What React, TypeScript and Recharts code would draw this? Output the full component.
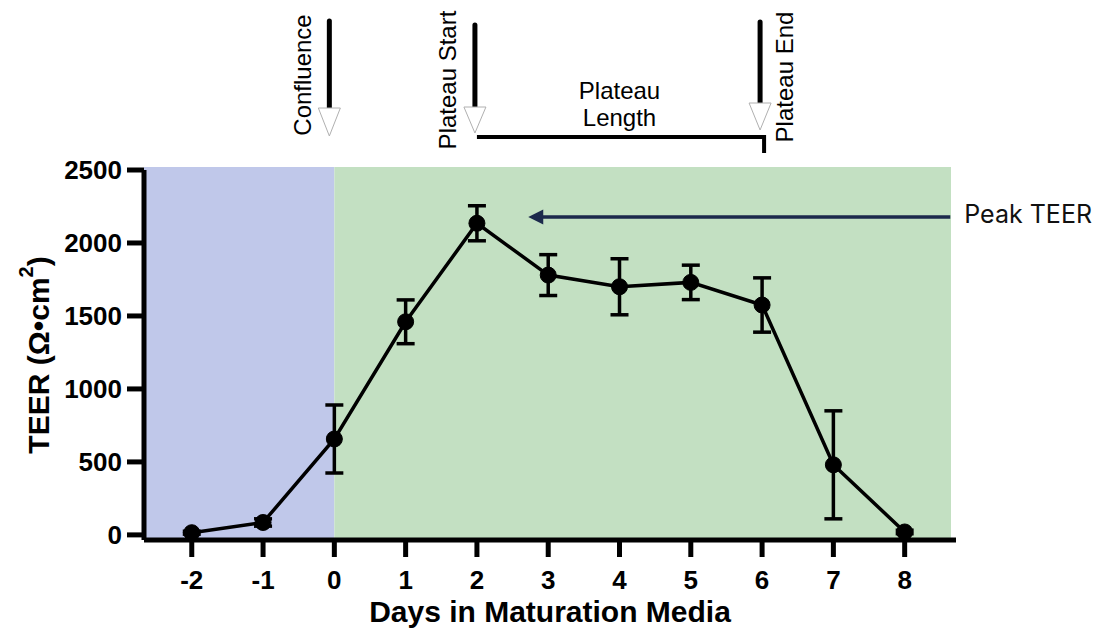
import React from 'react';
import { LineChart, Line, XAxis, YAxis, ErrorBar, ReferenceArea, ReferenceLine, Label } from 'recharts';

// ---- data ----
const days = [-2, -1, 0, 1, 2, 3, 4, 5, 6, 7, 8];
const teerMean = [15, 85, 657, 1460, 2135, 1780, 1700, 1730, 1575, 480, 20];
const teerError = [10, 25, 233, 150, 120, 140, 192, 118, 186, 370, 12];
const xTicks = [-2, -1, 0, 1, 2, 3, 4, 5, 6, 7, 8];
const yTicks = [0, 500, 1000, 1500, 2000, 2500];

const X_DOMAIN: [number, number] = [-2.67, 8.72];
const Y_DOMAIN: [number, number] = [-35, 2500];
const PRE_PHASE: [number, number] = [-2.67, 0];
const MATURATION_PHASE: [number, number] = [0, 8.65];
const SHADE_TOP = 2520;
const CONFLUENCE_DAY = 0;
const PLATEAU_START_DAY = 2;
const PLATEAU_END_DAY = 6;
const PEAK_ARROW_FROM = 2.72;
const PEAK_ARROW_TO = 8.64;
const PEAK_ARROW_LEVEL = 2178;

const data = days.map((d, i) => ({ day: d, teer: teerMean[i], err: teerError[i] }));

const FONT = '"Liberation Sans", Arial, Helvetica, sans-serif';

const makeMarker = (
  label: string,
  dx: number,
  lineTop: number,
  triTop: number,
  triBottom: number,
  textDx: number,
  textDy: number
) => (props: any) => {
  const x = props.x1 + dx;
  const top = Math.min(props.y1, props.y2);
  return (
    <g>
      <line x1={x} y1={top - lineTop} x2={x} y2={top - triTop} stroke="#000" strokeWidth={5} strokeLinecap="round" />
      <polygon
        points={`${x - 11},${top - triTop} ${x + 11},${top - triTop} ${x},${top - triBottom}`}
        fill="#fff"
        stroke="#b0b0b0"
        strokeWidth={1}
      />
      <text
        transform={`translate(${props.x1 + textDx},${top - textDy}) rotate(-90)`}
        textAnchor="middle"
        dominantBaseline="central"
        fontFamily={FONT}
        fontSize={24}
        fill="#000"
      >
        {label}
      </text>
    </g>
  );
};

const bracketShape = (props: any) => {
  const x1 = Math.min(props.x1, props.x2);
  const x2 = Math.max(props.x1, props.x2) + 2;
  const top = Math.min(props.y1, props.y2);
  const by = top - 33;
  const cx = (props.x1 + props.x2) / 2;
  return (
    <g>
      <path d={`M${x1},${by} L${x2},${by} L${x2},${top - 17}`} fill="none" stroke="#000" strokeWidth={4} />
      <text x={cx} y={top - 80} textAnchor="middle" dominantBaseline="central" fontFamily={FONT} fontSize={24} fill="#000">
        Plateau
      </text>
      <text x={cx} y={top - 53} textAnchor="middle" dominantBaseline="central" fontFamily={FONT} fontSize={24} fill="#000">
        Length
      </text>
    </g>
  );
};

const peakArrowShape = (props: any) => {
  const xl = Math.min(props.x1, props.x2);
  const xr = Math.max(props.x1, props.x2);
  const y = props.y1;
  return (
    <g>
      <line x1={xl + 12} y1={y} x2={xr} y2={y} stroke="#1c2a4c" strokeWidth={3.5} />
      <polygon points={`${xl},${y} ${xl + 15},${y - 7.5} ${xl + 15},${y + 7.5}`} fill="#1c2a4c" />
      <text x={xr + 14} y={y + 6} fontFamily='Inter, "Noto Sans", sans-serif' fontSize={25} fill="#111">
        Peak TEER
      </text>
    </g>
  );
};

const yTitle = (props: any) => {
  const vb = props.viewBox || {};
  const cx = vb.x + 38;
  const cy = vb.y + vb.height / 2;
  return (
    <text
      transform={`translate(${cx},${cy}) rotate(-90)`}
      textAnchor="middle"
      dominantBaseline="central"
      fontFamily={FONT}
      fontWeight="bold"
      fontSize={30}
      fill="#000"
    >
      TEER (Ω•cm
      <tspan dy={-12} fontSize={20}>2</tspan>
      <tspan dy={12}>)</tspan>
    </text>
  );
};

const xTitle = (props: any) => {
  const vb = props.viewBox || {};
  return (
    <text
      x={vb.x + vb.width / 2}
      y={vb.y + 82}
      textAnchor="middle"
      fontFamily={FONT}
      fontWeight="bold"
      fontSize={30}
      fill="#000"
    >
      Days in Maturation Media
    </text>
  );
};

export default function App() {
  return (
    <div style={{ position: 'absolute', left: 0, top: 0, width: 1100, height: 636, background: '#fff' }}>
      <LineChart width={1100} height={636} data={data} margin={{ top: 170, right: 144, bottom: 0, left: 0 }}>
        <ReferenceArea
          x1={PRE_PHASE[0]}
          x2={PRE_PHASE[1]}
          y1={Y_DOMAIN[0]}
          y2={SHADE_TOP}
          fill="#c0c8ea"
          fillOpacity={1}
          stroke="none"
          ifOverflow="visible"
        />
        <ReferenceArea
          x1={MATURATION_PHASE[0]}
          x2={MATURATION_PHASE[1]}
          y1={Y_DOMAIN[0]}
          y2={SHADE_TOP}
          fill="#c3e0c2"
          fillOpacity={1}
          stroke="none"
          ifOverflow="visible"
        />
        <XAxis
          dataKey="day"
          type="number"
          domain={X_DOMAIN}
          ticks={xTicks}
          allowDataOverflow
          height={96}
          axisLine={{ stroke: '#000', strokeWidth: 5 }}
          tickLine={{ stroke: '#000', strokeWidth: 5 }}
          tickSize={17}
          tickMargin={14}
          tick={{ fill: '#000', fontSize: 26, fontWeight: 'bold', fontFamily: FONT }}
        >
          <Label content={xTitle} />
        </XAxis>
        <YAxis
          type="number"
          domain={Y_DOMAIN}
          ticks={yTicks}
          allowDataOverflow
          width={144}
          axisLine={{ stroke: '#000', strokeWidth: 5 }}
          tickLine={{ stroke: '#000', strokeWidth: 5 }}
          tickSize={17}
          tickMargin={5}
          tick={{ fill: '#000', fontSize: 26, fontWeight: 'bold', fontFamily: FONT }}
        >
          <Label content={yTitle} />
        </YAxis>
        <ReferenceLine x={CONFLUENCE_DAY} ifOverflow="visible" shape={makeMarker('Confluence', -5, 149, 62, 34, -32, 95)} />
        <ReferenceLine x={PLATEAU_START_DAY} ifOverflow="visible" shape={makeMarker('Plateau Start', -2, 145, 63, 37, -29, 90)} />
        <ReferenceLine x={PLATEAU_END_DAY} ifOverflow="visible" shape={makeMarker('Plateau End', -2, 148, 67, 40, 22, 93)} />
        <ReferenceLine
          segment={[{ x: PLATEAU_START_DAY, y: Y_DOMAIN[1] }, { x: PLATEAU_END_DAY, y: Y_DOMAIN[1] }]}
          ifOverflow="visible"
          shape={bracketShape}
        />
        <ReferenceLine
          segment={[{ x: PEAK_ARROW_FROM, y: PEAK_ARROW_LEVEL }, { x: PEAK_ARROW_TO, y: PEAK_ARROW_LEVEL }]}
          ifOverflow="visible"
          shape={peakArrowShape}
        />
        <Line
          dataKey="teer"
          stroke="#000"
          strokeWidth={3.5}
          dot={{ r: 8, fill: '#000', stroke: '#000', strokeWidth: 1 }}
          activeDot={false}
          isAnimationActive={false}
        >
          <ErrorBar dataKey="err" direction="y" width={9} stroke="#000" strokeWidth={3.5} isAnimationActive={false} />
        </Line>
      </LineChart>
    </div>
  );
}
